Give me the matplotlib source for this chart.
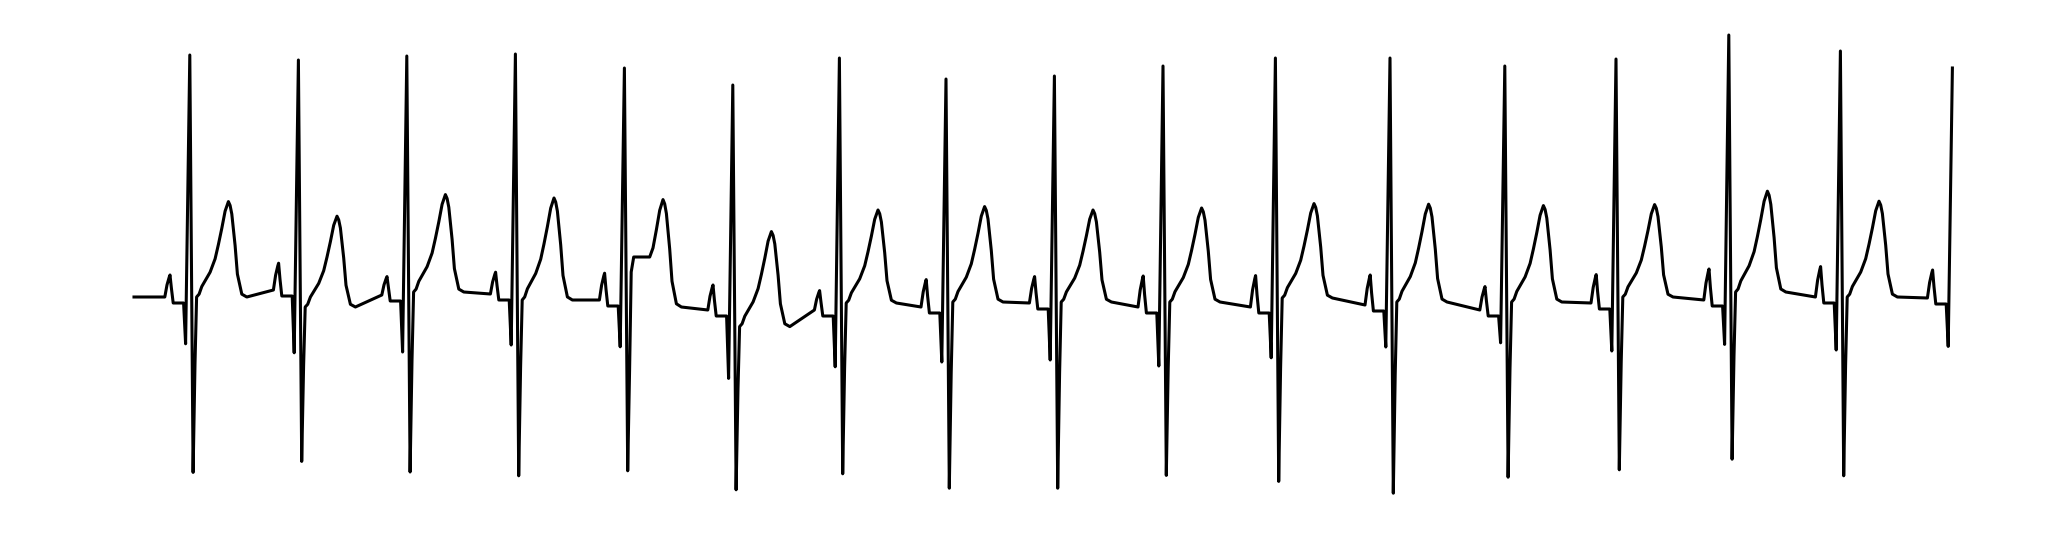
import matplotlib
matplotlib.use("Agg")
import matplotlib.pyplot as plt

# ---- data (time in s, amplitude in mV) ----
# R-peak time of each beat
r_time = [0.279, 0.822, 1.364, 1.907, 2.452, 2.994, 3.527, 4.060, 4.602,
          5.145, 5.707, 6.280, 6.854, 7.410, 7.974, 8.532, 9.092]
# R-peak amplitude
r_amp = [1.21, 1.185, 1.205, 1.215, 1.145, 1.06, 1.195, 1.09, 1.105,
         1.155, 1.195, 1.195, 1.155, 1.19, 1.31, 1.23, 1.145]
# S-trough amplitude (last beat is cut at its R peak)
s_amp = [-0.877, -0.822, -0.875, -0.894, -0.869, -0.964, -0.884, -0.956,
         -0.956, -0.892, -0.922, -0.981, -0.901, -0.864, -0.811, -0.894]
# Q-trough amplitude
q_amp = [-0.234, -0.279, -0.275, -0.24, -0.249, -0.407, -0.349, -0.325,
         -0.315, -0.345, -0.304, -0.25, -0.229, -0.27, -0.237, -0.265, -0.247]
# T-wave peak amplitude
t_amp = [0.477, 0.404, 0.512, 0.495, 0.487, 0.327, 0.435, 0.452, 0.435,
         0.445, 0.467, 0.464, 0.457, 0.462, 0.529, 0.479]
# P-wave peak amplitude
p_amp = [0.11, 0.169, 0.102, 0.124, 0.119, 0.06, 0.032, 0.087, 0.102,
         0.105, 0.107, 0.11, 0.052, 0.112, 0.14, 0.152, 0.135]
# baseline level just before each P wave
tp_pre = [0.0, 0.035, 0.01, 0.015, -0.015, -0.065, -0.065, -0.05, -0.03,
          -0.05, -0.05, -0.04, -0.065, -0.03, -0.015, 0.0, -0.005]
# baseline level just after each T wave
tp_post = [0.0, -0.05, 0.025, -0.015, -0.05, -0.148, -0.03, -0.025, -0.025,
           -0.025, -0.005, -0.025, -0.025, 0.0, 0.025, 0.0]
# ST-segment elevation (beat 5 shows an elevated ST segment)
st_elev = [0, 0, 0, 0, 0.25, 0, 0, 0, 0, 0, 0, 0, 0, 0, 0, 0]

# wave timing relative to the R peak (s)
P_OFF = [-0.125, -0.114, -0.103, -0.099, -0.092]
P_FRAC = [0.0, 0.55, 0.9, 1.0, 0.4]
PR_OFF = [-0.083, -0.031]
PR_DROP = 0.03
Q_OFF = -0.021
S_OFF = 0.0165
SREC_OFF, SREC_FRAC = 0.026, 0.38
J_OFF = 0.034
T_OFF = [0.0465, 0.06, 0.0765, 0.1015, 0.1265, 0.143, 0.16, 0.1765, 0.1845,
         0.193, 0.2015, 0.21, 0.2265, 0.238, 0.26, 0.285]
T_FRAC = [0.03, 0.11, 0.17, 0.26, 0.40, 0.55, 0.72, 0.90, 0.95, 1.0, 0.96,
          0.87, 0.54, 0.24, 0.03, 0.0]
T_PEAK_OFF = 0.193

# ---- build the trace from the read key points ----
ts, vs = [0.0], [tp_pre[0]]
for i in range(len(r_time)):
    tr = r_time[i]
    base = tp_pre[i]
    for off, f in zip(P_OFF, P_FRAC):
        ts.append(tr + off); vs.append(base + f * (p_amp[i] - base))
    for off in PR_OFF:
        ts.append(tr + off); vs.append(base - PR_DROP)
    ts.append(tr + Q_OFF); vs.append(q_amp[i])
    ts.append(tr); vs.append(r_amp[i])
    if i >= len(s_amp):
        break
    post = tp_post[i]
    ts.append(tr + S_OFF); vs.append(s_amp[i])
    ts.append(tr + SREC_OFF); vs.append(post + SREC_FRAC * (s_amp[i] - post))
    ts.append(tr + J_OFF); vs.append(post + max(-0.02, 0.7 * st_elev[i]))
    for off, f in zip(T_OFF, T_FRAC):
        val = f * (t_amp[i] - post)
        if off < T_PEAK_OFF:
            val = max(val, st_elev[i])
        ts.append(tr + off); vs.append(post + val)

# ---- figure ----
fig = plt.figure(figsize=(20.46, 5.38), dpi=100)
ax = fig.add_axes([0, 0, 1, 1])
ax.plot(ts, vs, color="black", linewidth=2.2)
ax.set_xlim(-0.67, 9.56)
ax.set_ylim(-1.205, 1.485)
ax.axis("off")
fig.savefig("out.png", dpi=100, facecolor="white")
